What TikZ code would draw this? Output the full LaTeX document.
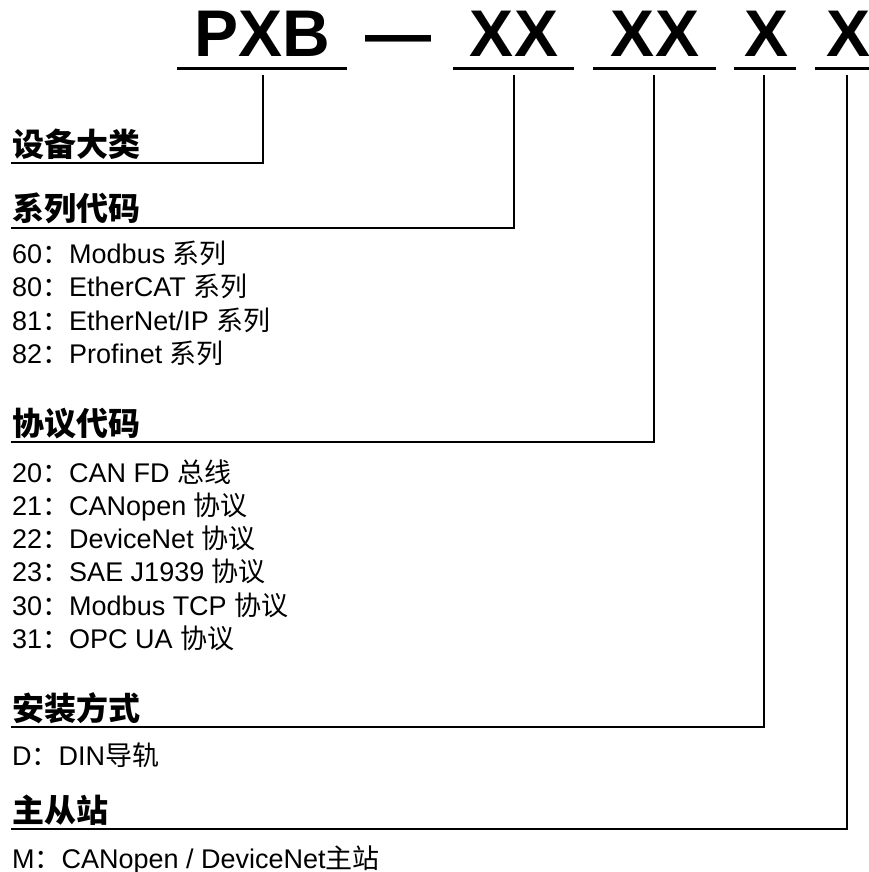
\documentclass[tikz,border=0pt]{standalone}
\usepackage{fontspec}
\setmainfont{Liberation Sans}
\newfontfamily\cjk{Noto Sans CJK SC}
\newcommand\zh[1]{{\cjk #1}}
\begin{document}
\begin{tikzpicture}[x=1pt,y=-1pt,
  titletext/.style={font=\fontsize{66}{66}\selectfont\bfseries, inner sep=0pt, anchor=base},
  headtext/.style={font=\fontsize{32}{32}\selectfont\cjk\bfseries, inner sep=0pt, anchor=base west},
  itemtext/.style={font=\fontsize{27}{27}\selectfont, inner sep=0pt, anchor=base west},
  rulebar/.style={line width=3pt},
  linkline/.style={line width=2.6pt, line join=miter}]
\useasboundingbox[fill=white] (0,0) rectangle (869,872);

% title
\node[titletext] (pxb) at (262.5,57) {PXB};
\node[titletext] (dash) at (398,57) {—};
\node[titletext] (s1) at (514,57) {XX};
\node[titletext] (s2) at (655,57) {XX};
\node[titletext] (s3) at (766,57) {X};
\node[titletext] (s4) at (848,57) {X};

% underlines
\draw[rulebar] (177,69) -- (347,69);
\draw[rulebar] (453,69) -- (574,69);
\draw[rulebar] (593,69) -- (716,69);
\draw[rulebar] (734,69) -- (796,69);
\draw[rulebar] (815,69) -- (872,69);

% headings
\node[headtext] (h1) at (12,156) {设备大类};
\node[headtext] (h2) at (12,220) {系列代码};
\node[headtext] (h3) at (12,435) {协议代码};
\node[headtext] (h4) at (12,720) {安装方式};
\node[headtext] (h5) at (12,822) {主从站};

% connectors
\coordinate (t1) at (263,75);  \coordinate (c1) at (11,163);
\coordinate (t2) at (514,75);  \coordinate (c2) at (11,228);
\coordinate (t3) at (654,75);  \coordinate (c3) at (11,442);
\coordinate (t4) at (764,75);  \coordinate (c4) at (11,727);
\coordinate (t5) at (847,75);  \coordinate (c5) at (11,829);
\draw[linkline] (t1) |- (c1);
\draw[linkline] (t2) |- (c2);
\draw[linkline] (t3) |- (c3);
\draw[linkline] (t4) |- (c4);
\draw[linkline] (t5) |- (c5);

% series items
\node[itemtext] (a1) at (12,263) {60\zh{：}Modbus \zh{系列}};
\node[itemtext] (a2) at (12,296.5) {80\zh{：}EtherCAT \zh{系列}};
\node[itemtext] (a3) at (12,330) {81\zh{：}EtherNet/IP \zh{系列}};
\node[itemtext] (a4) at (12,363.5) {82\zh{：}Profinet \zh{系列}};

% protocol items
\node[itemtext] (b1) at (12,482) {20\zh{：}CAN FD \zh{总线}};
\node[itemtext] (b2) at (12,515.3) {21\zh{：}CANopen \zh{协议}};
\node[itemtext] (b3) at (12,548.6) {22\zh{：}DeviceNet \zh{协议}};
\node[itemtext] (b4) at (12,581.9) {23\zh{：}SAE J1939 \zh{协议}};
\node[itemtext] (b5) at (12,615.2) {30\zh{：}Modbus TCP \zh{协议}};
\node[itemtext] (b6) at (12,648.5) {31\zh{：}OPC UA \zh{协议}};

% mounting
\node[itemtext] (d1) at (12,765) {D\zh{：}DIN\zh{导轨}};

% master/slave
\node[itemtext] (m1) at (12,868) {M\zh{：}CANopen / DeviceNet\zh{主站}};
\end{tikzpicture}
\end{document}
